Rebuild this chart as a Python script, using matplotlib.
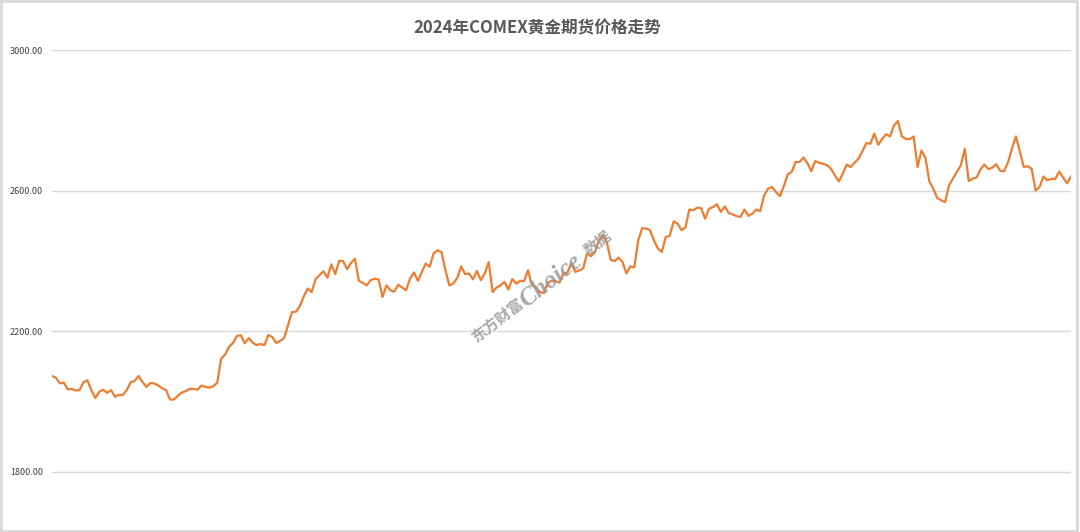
# Line chart of COMEX gold futures prices in 2024
import matplotlib.pyplot as plt
from matplotlib.patches import Rectangle

plt.rcParams['font.family'] = ['Noto Sans CJK SC', 'DejaVu Sans']

title = '2024年COMEX黄金期货价格走势'
watermark_parts = ['东方财富', 'Choice', '数据']

# daily closing prices (USD/oz)
prices_q1 = [2072, 2067, 2051, 2053, 2034, 2035, 2031, 2032, 2054, 2060, 2032, 2009, 2027, 2033,
             2024, 2032, 2013, 2018, 2018, 2032, 2054, 2058, 2072, 2055, 2041, 2052, 2051, 2045,
             2037, 2032, 2005, 2005, 2016, 2025, 2029, 2035, 2035, 2033, 2045, 2041, 2039, 2043,
             2053]
prices_q2 = [2122, 2133, 2155, 2166, 2186, 2188, 2165, 2180, 2167, 2160, 2163, 2160, 2189, 2183,
             2166, 2172, 2180, 2217, 2254, 2255, 2271, 2299, 2321, 2311, 2348, 2359, 2370, 2352,
             2390, 2362, 2400, 2399, 2376, 2394, 2406, 2343, 2337, 2330, 2345, 2349, 2347, 2297,
             2330, 2316, 2312]
prices_q3 = [2332, 2324, 2316, 2349, 2367, 2343, 2368, 2392, 2383, 2421, 2430, 2425, 2373, 2330,
             2335, 2351, 2384, 2362, 2364, 2347, 2371, 2345, 2364, 2396, 2311, 2324, 2330, 2340,
             2318, 2348, 2335, 2343, 2342, 2373, 2330, 2324, 2311, 2308, 2337, 2343, 2342, 2338]
prices_q4 = [2364, 2366, 2394, 2368, 2373, 2378, 2421, 2413, 2425, 2458, 2472, 2454, 2403, 2399,
             2409, 2397, 2364, 2384, 2381, 2458, 2493, 2492, 2487, 2458, 2435, 2425, 2468, 2471,
             2512, 2506, 2487, 2495, 2546, 2544, 2551, 2550, 2520, 2548, 2553, 2561, 2539, 2555,
             2536, 2532, 2527, 2525, 2546, 2528, 2534, 2546]
prices_q5 = [2541, 2586, 2605, 2610, 2596, 2584, 2612, 2646, 2653, 2681, 2681, 2694, 2678, 2655,
             2684, 2679, 2676, 2672, 2662, 2643, 2626, 2648, 2674, 2667, 2679, 2691, 2712, 2735,
             2733, 2762, 2730, 2747, 2760, 2754, 2785, 2798]
prices_q6 = [2754, 2747, 2746, 2754, 2667, 2714, 2693, 2626, 2605, 2579, 2572, 2567, 2615, 2634,
             2653, 2672, 2719, 2627, 2634, 2637, 2660, 2674, 2661, 2665, 2675, 2656, 2655, 2681,
             2719, 2754, 2710, 2667, 2669, 2662, 2600, 2610, 2640, 2629, 2633, 2633, 2654, 2637,
             2621, 2640]

y_ticks = [1800, 2200, 2600, 3000]


def line_chart():
    """
    Draw the price line with grey grid lines and the watermark
    """
    prices = prices_q1 + prices_q2 + prices_q3 + prices_q4 + prices_q5 + prices_q6
    days = list(range(len(prices)))

    fig = plt.figure(figsize=(10.8, 5.32), dpi=100)
    ax = fig.add_axes([52 / 1080, 0, (1071 - 52) / 1080, 1 - 50 / 532])

    ax.plot(days, prices, color='#ED7D31', linewidth=1.6, solid_joinstyle='round')

    ax.set_xlim(0, len(prices) - 1)
    ax.set_ylim(1628, 3000)
    ax.set_yticks(y_ticks)
    ax.set_yticklabels(['%.2f' % t for t in y_ticks], fontsize=6.5, color='#404040')
    ax.tick_params(axis='y', length=0, pad=6.5)
    ax.set_xticks([])
    ax.grid(axis='y', color='#d9d9d9', linewidth=1)
    ax.set_axisbelow(True)
    for spine in ax.spines.values():
        spine.set_visible(False)

    fig.text(537 / 1080, 1 - 28 / 532, title, ha='center', va='center',
             fontsize=12, fontweight='bold', color='#595959')

    # watermark in three pieces along a slanted line
    spots = [(497, 320, 11, 'Noto Sans CJK SC', 'normal'),
             (551, 281, 18, 'Liberation Serif', 'italic'),
             (598, 243, 11, 'Noto Sans CJK SC', 'normal')]
    for text, (x, y, size, family, style) in zip(watermark_parts, spots):
        fig.text(x / 1080, 1 - y / 532, text, ha='center', va='center', fontsize=size,
                 family=family, fontweight='bold', fontstyle=style, color='#9a9a9a',
                 alpha=0.85, rotation=38, rotation_mode='anchor')

    # light grey frame round the picture
    fig.patches.append(Rectangle((0.001, 0.002), 0.996, 0.996, transform=fig.transFigure,
                                 fill=False, edgecolor='#d9d9d9', linewidth=2))

    fig.savefig('out.png', dpi=100)


def main():
    line_chart()


if __name__ == '__main__':
    main()
